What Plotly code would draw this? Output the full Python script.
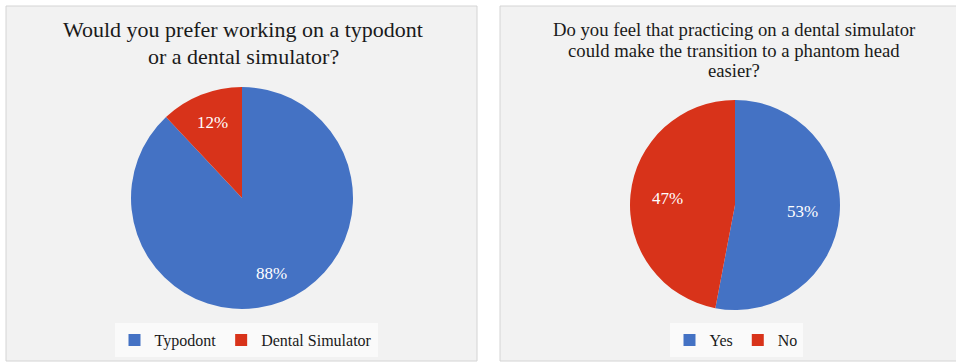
import math
import plotly.graph_objects as go

W, H = 956, 363

# Data
left_labels = ["Typodont", "Dental Simulator"]
left_values = [88, 12]
right_labels = ["Yes", "No"]
right_values = [53, 47]
colors = ["#4472C4", "#D8331A"]

left_title_lines = ["Would you prefer working on a typodont", "or a dental simulator?"]
right_title_lines = ["Do you feel that practicing on a dental simulator",
                     "could make the transition to a phantom head", "easier?"]

SERIF = "Liberation Serif, Times New Roman, serif"


def px_x(v):
    return v / W


def px_y(v):
    return 1 - v / H


# pie geometry (pixels): center x, center y, radius, label radius fraction
LEFT_PIE = (242, 198, 111, 0.73)
RIGHT_PIE = (735, 205, 105, 0.65)


def pie_domain(cx, cy, r):
    return dict(x=[px_x(cx - r), px_x(cx + r)], y=[px_y(cy + r), px_y(cy - r)])


def slice_label_annotations(values, geom):
    cx, cy, r, frac = geom
    total = sum(values)
    out = []
    start = 0.0
    for v in values:
        mid = (start + v / 2) / total * 2 * math.pi  # clockwise from 12 o'clock
        start += v
        x = cx + math.sin(mid) * r * frac
        y = cy - math.cos(mid) * r * frac
        out.append(dict(text=f"{round(v / total * 100)}%", x=px_x(x), y=px_y(y),
                        xref="paper", yref="paper", xanchor="center", yanchor="middle",
                        showarrow=False, font=dict(family=SERIF, size=17, color="white")))
    return out


fig = go.Figure()

fig.add_trace(go.Pie(
    labels=left_labels, values=left_values, sort=False, direction="clockwise", rotation=0,
    marker=dict(colors=colors, line=dict(width=0)),
    textinfo="none",
    domain=pie_domain(*LEFT_PIE[:3]),
    legend="legend", hoverinfo="label+percent",
))

fig.add_trace(go.Pie(
    labels=right_labels, values=right_values, sort=False, direction="clockwise", rotation=0,
    marker=dict(colors=colors, line=dict(width=0)),
    textinfo="none",
    domain=pie_domain(*RIGHT_PIE[:3]),
    legend="legend2", hoverinfo="label+percent",
))

shapes = [
    dict(type="rect", xref="paper", yref="paper",
         x0=px_x(6), x1=px_x(477), y0=px_y(361), y1=px_y(6),
         fillcolor="#f2f2f2", line=dict(color="#d4d4d4", width=1), layer="below"),
    dict(type="rect", xref="paper", yref="paper",
         x0=px_x(500), x1=px_x(960), y0=px_y(361), y1=px_y(6),
         fillcolor="#f2f2f2", line=dict(color="#d4d4d4", width=1), layer="below"),
]

annotations = []
for i, line in enumerate(left_title_lines):
    annotations.append(dict(text=line, x=px_x(243), y=px_y(30 + 26 * i), xref="paper", yref="paper",
                            xanchor="center", yanchor="middle", showarrow=False,
                            font=dict(family=SERIF, size=22, color="#1a1a1a")))
for i, line in enumerate(right_title_lines):
    annotations.append(dict(text=line, x=px_x(734), y=px_y(30 + 20.5 * i), xref="paper", yref="paper",
                            xanchor="center", yanchor="middle", showarrow=False,
                            font=dict(family=SERIF, size=18.7, color="#1a1a1a")))
annotations += slice_label_annotations(left_values, LEFT_PIE)
annotations += slice_label_annotations(right_values, RIGHT_PIE)

fig.update_layout(
    width=W, height=H,
    margin=dict(l=0, r=0, t=0, b=0),
    paper_bgcolor="white",
    plot_bgcolor="white",
    shapes=shapes,
    annotations=annotations,
    showlegend=True,
    legend=dict(orientation="h", x=px_x(246), y=px_y(340), xanchor="center", yanchor="middle",
                bgcolor="rgba(255,255,255,0.6)", font=dict(family=SERIF, size=16, color="#1a1a1a"),
                itemwidth=30, traceorder="normal"),
    legend2=dict(orientation="h", x=px_x(736), y=px_y(340), xanchor="center", yanchor="middle",
                 bgcolor="rgba(255,255,255,0.6)", font=dict(family=SERIF, size=16, color="#1a1a1a"),
                 itemwidth=30, traceorder="normal"),
)

fig.write_html("out.html")
